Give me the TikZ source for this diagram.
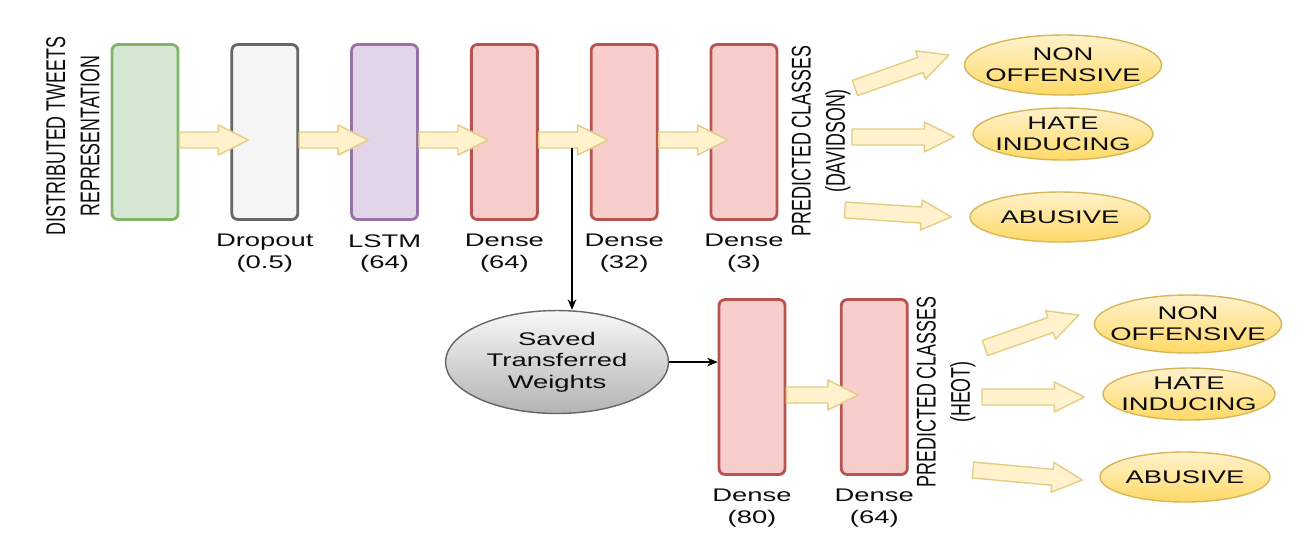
\documentclass[tikz,border=0pt]{standalone}
\usepackage{fontspec}
\setmainfont{Liberation Sans}
\newfontfamily\hfont{Liberation Sans}[FakeStretch=1.5]
\newfontfamily\vfont{Liberation Sans}[FakeStretch=0.66]
\usetikzlibrary{positioning,calc,shapes.geometric,arrows.meta}

\definecolor{grnfill}{HTML}{D5E8D4}
\definecolor{grndraw}{HTML}{82B366}
\definecolor{gryfill}{HTML}{F5F5F5}
\definecolor{grydraw}{HTML}{666666}
\definecolor{purfill}{HTML}{E1D5E7}
\definecolor{purdraw}{HTML}{9673A6}
\definecolor{redfill}{HTML}{F8CECC}
\definecolor{reddraw}{HTML}{B85450}
\definecolor{arrfill}{HTML}{FFF2CC}
\definecolor{arrdraw}{HTML}{E3CD85}
\definecolor{clstop}{HTML}{FFF2CC}
\definecolor{clsbot}{HTML}{FFD966}
\definecolor{clsdraw}{HTML}{D6B656}
\definecolor{wtop}{HTML}{F8F8F8}
\definecolor{wbot}{HTML}{B3B3B3}

\tikzset{
	layer/.style={draw, line width=1.6pt, rounded corners=0.12cm, minimum width=1.32cm, minimum height=3.5cm, inner sep=0pt},
	dense/.style={layer, draw=reddraw, fill=redfill},
	lbl/.style={align=center, inner sep=0pt, text=black!95, font=\hfont\fontsize{10.4}{12.4}\selectfont},
	side/.style={rotate=90, align=center, inner sep=0pt, text=black!95, font=\vfont\fontsize{15.4}{19.5}\selectfont},
	cls/.style={ellipse, draw=clsdraw, line width=0.8pt, top color=clstop, bottom color=clsbot, minimum width=3.6cm, minimum height=1.04cm, inner sep=0pt},
	clstext/.style={lbl, font=\hfont\fontsize{10.4}{12}\selectfont},
	saved/.style={ellipse, draw=grydraw, line width=0.8pt, top color=wtop, bottom color=wbot, minimum width=4.46cm, minimum height=2.06cm, inner sep=0pt, lbl, font=\hfont\fontsize{10.4}{12.2}\selectfont},
	fat/.style={fill=arrfill, draw=arrdraw, line width=0.8pt, line join=round},
	link/.style={-{Stealth[length=6pt, width=5pt]}, line width=0.6pt},
}

\newcommand{\fatarrow}[2]{%
	\coordinate (fa-n) at ($(#2)!0.6cm!(#1)$);
	\path[fat] ($(#1)!0.16cm!90:(#2)$) -- ($(fa-n)!0.16cm!90:(#2)$) -- ($(fa-n)!0.3cm!90:(#2)$) -- (#2)
		-- ($(fa-n)!0.3cm!-90:(#2)$) -- ($(fa-n)!0.16cm!-90:(#2)$) -- ($(#1)!0.16cm!-90:(#2)$) -- cycle;
}
\newcommand{\layerarrow}[2]{%
	\coordinate (la-s) at ($(#1.east)+(0,8)$);
	\coordinate (la-t) at ($(#2.west)+(18,8)$);
	\fatarrow{la-s}{la-t}
}

\begin{document}
\begin{tikzpicture}[x=0.02cm, y=-0.02cm]
	\useasboundingbox (0,0) rectangle (1311,539);
	% first network
	\node[layer, draw=grndraw, fill=grnfill] (in) at (145,132) {};
	\node[layer, draw=grydraw, fill=gryfill, right=1.02cm of in] (drop) {};
	\node[layer, draw=purdraw, fill=purfill, right=1.02cm of drop] (lstm) {};
	\node[dense, right=1.02cm of lstm] (d1) {};
	\node[dense, right=1.02cm of d1] (d2) {};
	\node[dense, right=1.02cm of d2] (d3) {};
	%
	\node[lbl, below=0.26cm of drop] (ldrop) {Dropout\\(0.5)};
	\node[lbl, below=0.26cm of lstm] (llstm) {LSTM\\(64)};
	\node[lbl, below=0.26cm of d1] (ld1) {Dense\\(64)};
	\node[lbl, below=0.26cm of d2] (ld2) {Dense\\(32)};
	\node[lbl, below=0.26cm of d3] (ld3) {Dense\\(3)};
	%
	\node[side] (din) at (73,136) {DISTRIBUTED TWEETS\\REPRESENTATION};
	\node[side] (pc1) at (821,141) {PREDICTED CLASSES\\(DAVIDSON)};
	%
	\node[cls, minimum width=3.94cm, minimum height=1.2cm, label={[clstext]center:NON\\OFFENSIVE}] (n1) at (1063,65) {};
	\node[cls, label={[clstext]center:HATE\\INDUCING}] (h1) at (1063,134) {};
	\node[cls, minimum height=1cm, label={[clstext]center:ABUSIVE}] (a1) at (1060,217) {};
	% second network
	\node[saved] (w) at (557,362) {Saved\\Transferred\\Weights};
	\node[dense] (d4) at (752,387) {};
	\node[dense, right=1.07cm of d4] (d5) {};
	\node[lbl, below=0.26cm of d4] (ld4) {Dense\\(80)};
	\node[lbl, below=0.26cm of d5] (ld5) {Dense\\(64)};
	\node[side] (pc2) at (946,392) {PREDICTED CLASSES\\(HEOT)};
	%
	\node[cls, minimum width=3.74cm, minimum height=1.16cm, label={[clstext]center:NON\\OFFENSIVE}] (n2) at (1188,324) {};
	\node[cls, minimum width=3.44cm, label={[clstext]center:HATE\\INDUCING}] (h2) at (1189,394) {};
	\node[cls, minimum width=3.4cm, minimum height=1cm, label={[clstext]center:ABUSIVE}] (a2) at (1185,477) {};
	% connectors
	\foreach \a/\b in {in/drop, drop/lstm, lstm/d1, d1/d2, d2/d3, d4/d5}
		{\layerarrow{\a}{\b}}
	%
	\coordinate (tap) at (572,148);
	\draw[link] (tap) -- (tap |- w.north);
	\draw[link] (w.east) -- (w.east -| d4.west);
	%
	\coordinate (s1) at (855,88);
	\coordinate (s2) at (852,137);
	\coordinate (s3) at (845,210);
	\coordinate (e1) at ($(n1.west)+(-15,-10)$);
	\coordinate (e2) at ($(h1.west)+(-18,3)$);
	\coordinate (e3) at ($(a1.west)+(-18,0)$);
	\fatarrow{s1}{e1} \fatarrow{s2}{e2} \fatarrow{s3}{e3}
	%
	\coordinate (s4) at (985,348);
	\coordinate (s5) at (982,397);
	\coordinate (s6) at (973,470);
	\coordinate (e4) at ($(n2.west)+(-15,-9)$);
	\coordinate (e5) at ($(h2.west)+(-18,3)$);
	\coordinate (e6) at ($(a2.west)+(-17,3)$);
	\fatarrow{s4}{e4} \fatarrow{s5}{e5} \fatarrow{s6}{e6}
\end{tikzpicture}
\end{document}
